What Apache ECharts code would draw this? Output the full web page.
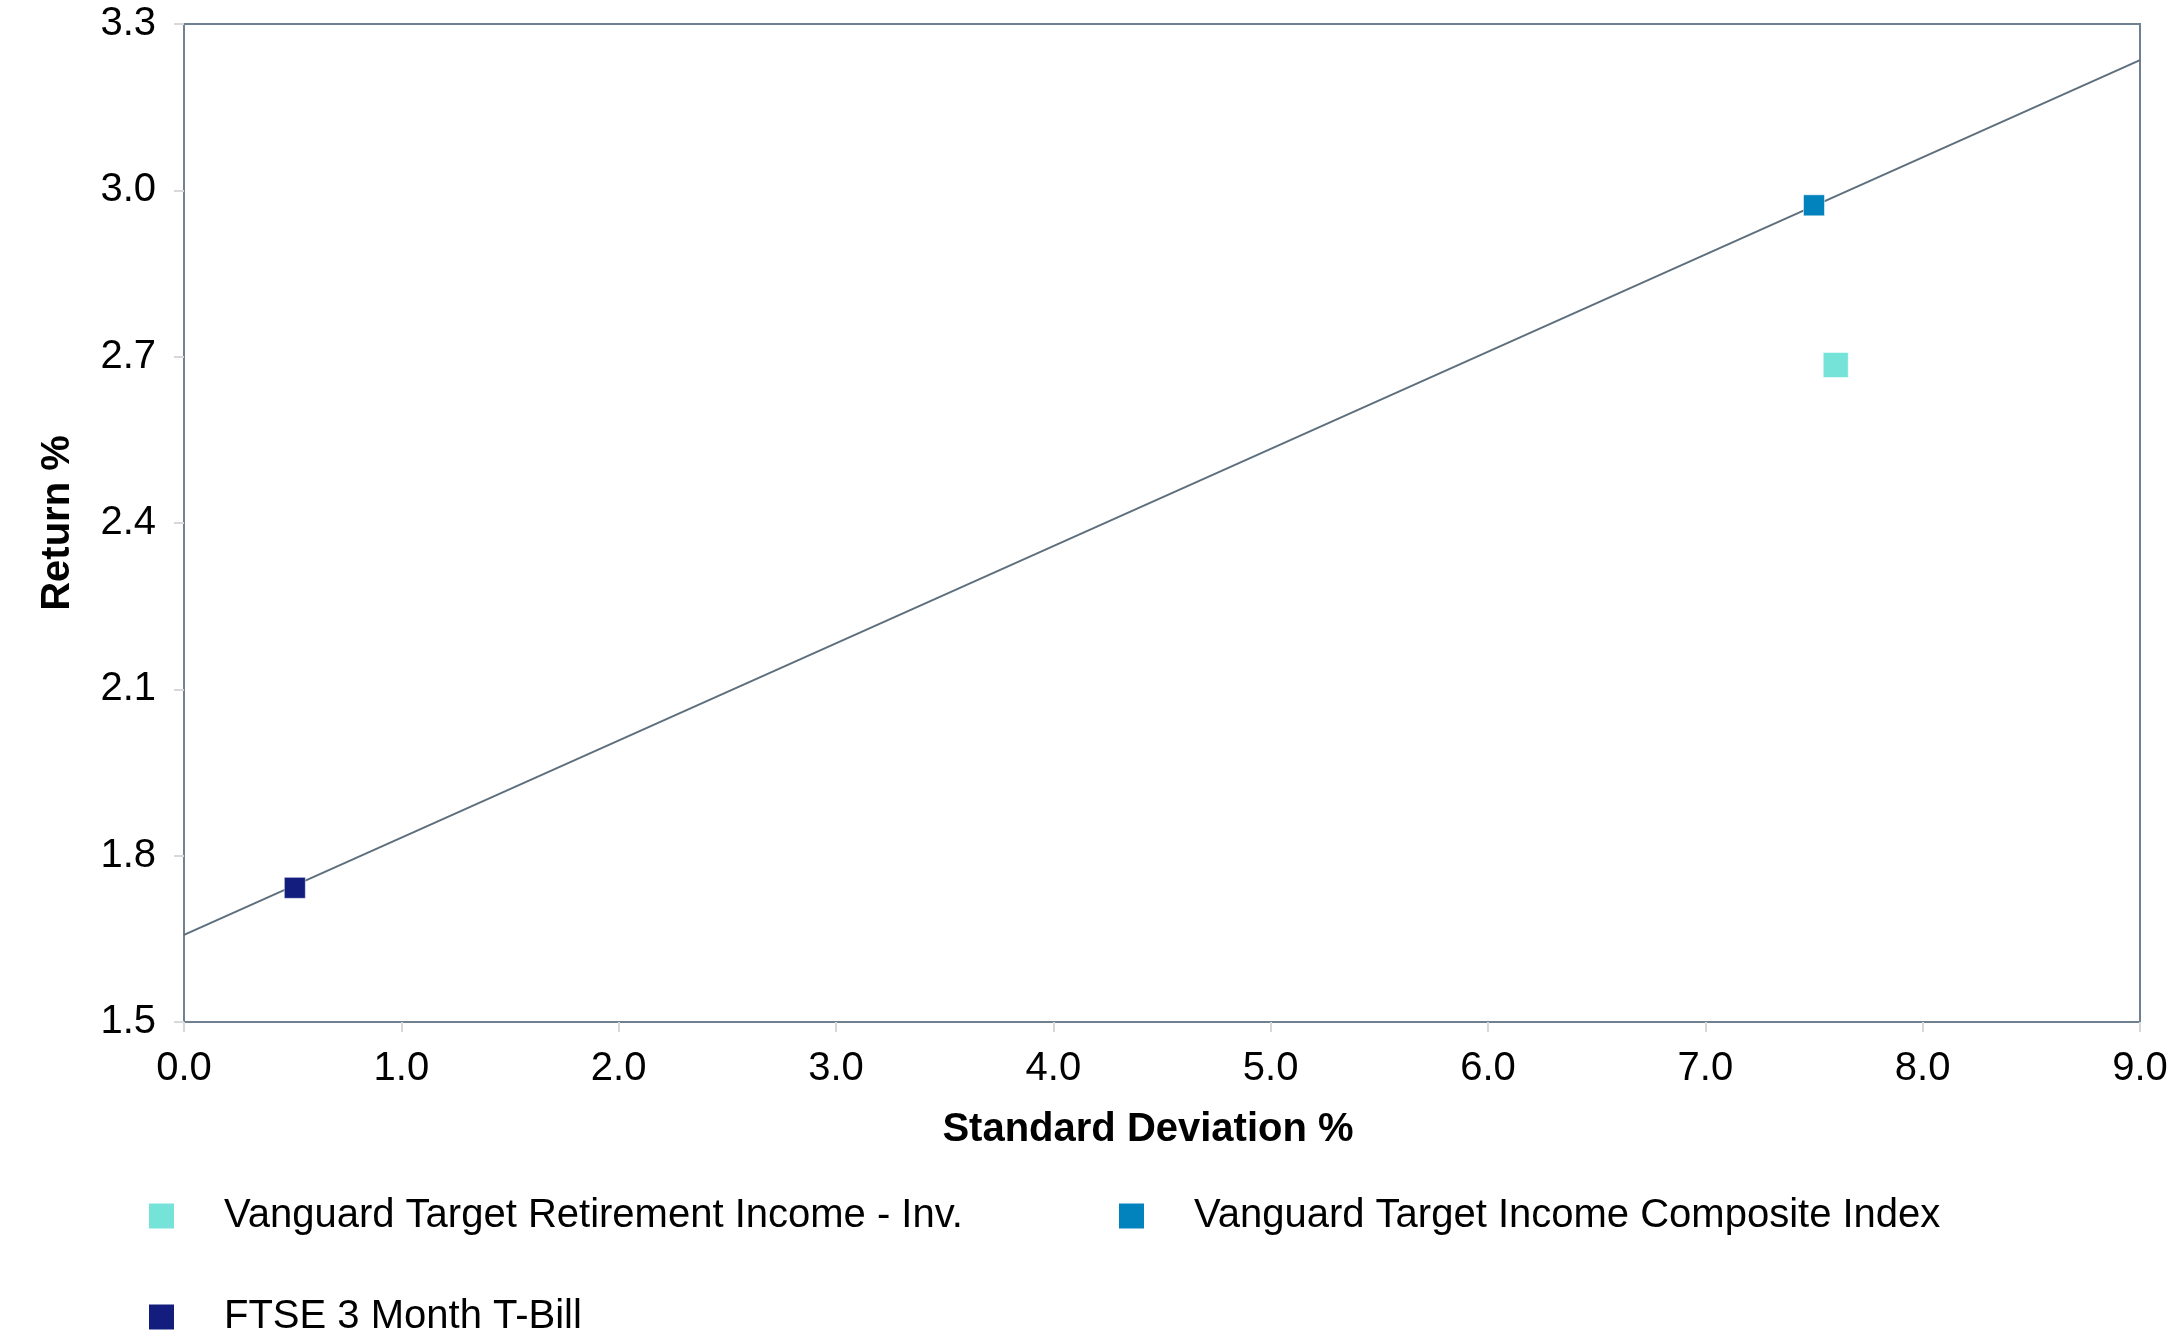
<!DOCTYPE html>
<html>
<head>
<meta charset="utf-8">
<script src="https://cdn.jsdelivr.net/npm/echarts@6/dist/echarts.min.js"></script>
<style>
html,body{margin:0;padding:0;background:#fff;}
#chart{width:2177px;height:1338px;}
</style>
</head>
<body>
<div id="chart"></div>
<script>
const seriesNames = ['Vanguard Target Retirement Income - Inv.', 'Vanguard Target Income Composite Index', 'FTSE 3 Month T-Bill'];
const stdDev = [7.60, 7.50, 0.51];
const returns = [2.685, 2.973, 1.742];
const seriesColors = ['#75e3d8', '#0383bd', '#131d7e'];
const lineX = [0, 9];
const lineY = [1.657, 3.235];
const xTicks = ['0.0','1.0','2.0','3.0','4.0','5.0','6.0','7.0','8.0','9.0'];
const yTicks = ['1.5','1.8','2.1','2.4','2.7','3.0','3.3'];

const chart = echarts.init(document.getElementById('chart'));
const font = 'Liberation Sans, Arial, Helvetica, sans-serif';
const markerSizes = [25, 21, 21];

const scatterSeries = seriesNames.map((n, i) => ({
  name: n,
  type: 'scatter',
  symbol: 'rect',
  symbolSize: markerSizes[i],
  itemStyle: { color: seriesColors[i], opacity: 1, borderColor: 'rgba(255,255,255,0.5)', borderWidth: 1 },
  data: [[stdDev[i], returns[i]]],
  z: 3
}));

const legendItem = (name, left, top) => ({
  data: [name],
  left: left, top: top,
  icon: 'rect', itemWidth: 25, itemHeight: 25,
  selectedMode: false,
  itemStyle: { opacity: 1, borderWidth: 0 },
  textStyle: { fontFamily: font, fontSize: 40, color: '#000', padding: [0,0,0,45], lineHeight: 46 }
});

chart.setOption({
  animation: false,
  backgroundColor: '#fff',
  grid: { left: 184, right: 37, top: 24, bottom: 316, show: true, borderColor: '#6f8191', borderWidth: 2, backgroundColor: 'transparent' },
  xAxis: {
    type: 'value', min: 0, max: 9, interval: 1,
    name: 'Standard Deviation %', nameLocation: 'middle', nameGap: 88,
    nameTextStyle: { fontFamily: font, fontSize: 40, fontWeight: 'bold', color: '#000', padding: [0, 28, 0, 0] },
    axisLine: { show: true, lineStyle: { color: '#6f8191', width: 2 } },
    axisTick: { show: true, length: 10, lineStyle: { color: '#d8d8d8', width: 2 } },
    axisLabel: { fontFamily: font, fontSize: 40, color: '#000', margin: 27, formatter: (v) => xTicks[Math.round(v)] },
    splitLine: { show: false }
  },
  yAxis: {
    type: 'value', min: 1.5, max: 3.3, interval: 0.3,
    name: 'Return %', nameLocation: 'middle', nameGap: 106,
    nameTextStyle: { fontFamily: font, fontSize: 40, fontWeight: 'bold', color: '#000' },
    axisLine: { show: true, lineStyle: { color: '#6f8191', width: 2 } },
    axisTick: { show: true, length: 10, lineStyle: { color: '#d8d8d8', width: 2 } },
    axisLabel: { fontFamily: font, fontSize: 40, color: '#000', margin: 28, formatter: (v) => yTicks[Math.round((v - 1.5) / 0.3)] },
    splitLine: { show: false }
  },
  legend: [
    legendItem(seriesNames[0], 144, 1188),
    legendItem(seriesNames[1], 1114, 1188),
    legendItem(seriesNames[2], 144, 1289)
  ],
  series: [
    {
      name: 'Capital Market Line',
      type: 'line',
      data: lineX.map((x, i) => [x, lineY[i]]),
      symbol: 'none',
      lineStyle: { color: '#5d6f7d', width: 2 },
      z: 2,
      silent: true
    },
    ...scatterSeries
  ]
});
</script>
</body>
</html>
